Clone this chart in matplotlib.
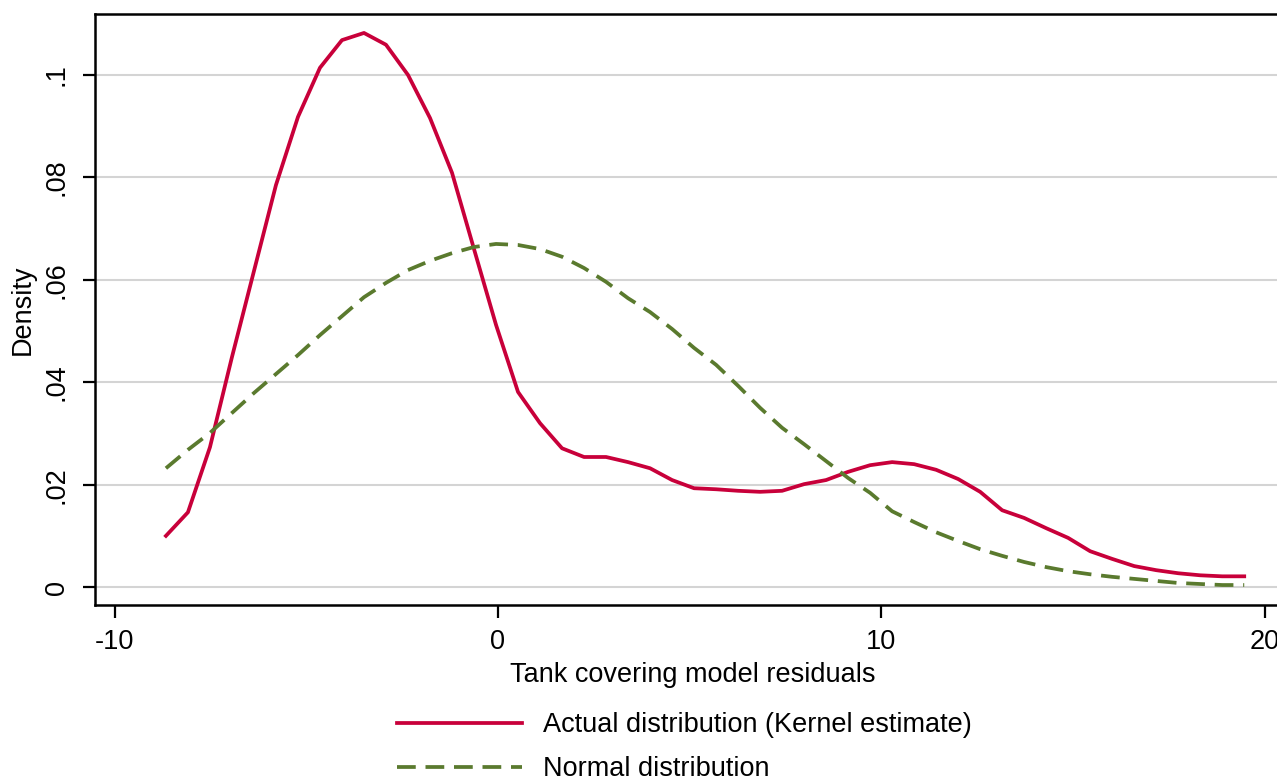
import matplotlib
matplotlib.use("Agg")
import matplotlib.pyplot as plt
import numpy as np

plt.rcParams['font.family'] = ['Liberation Sans', 'DejaVu Sans']

# kernel density evaluation points (50 points, as Stata kdensity does)
x_start = -8.66
x_step = 0.574
n_points = 50

kernel_density = [
    0.0100, 0.0146, 0.0273, 0.0449, 0.0617, 0.0785, 0.0918, 0.1014, 0.1068, 0.1082,
    0.1059, 0.1000, 0.0916, 0.0809, 0.0660, 0.0512, 0.0381, 0.0320, 0.0271, 0.0254,
    0.0254, 0.0244, 0.0232, 0.0209, 0.0193, 0.0191, 0.0188, 0.0186, 0.0188, 0.0201,
    0.0209, 0.0225, 0.0238, 0.0244, 0.0240, 0.0229, 0.0211, 0.0186, 0.0150, 0.0135,
    0.0115, 0.0096, 0.0070, 0.0055, 0.0041, 0.0033, 0.0027, 0.0023, 0.0021, 0.0021,
]

normal_density = [
    0.0232, 0.0268, 0.0301, 0.0340, 0.0379, 0.0416, 0.0453, 0.0492, 0.0529, 0.0566,
    0.0594, 0.0619, 0.0637, 0.0652, 0.0664, 0.0670, 0.0668, 0.0660, 0.0645, 0.0623,
    0.0596, 0.0564, 0.0537, 0.0504, 0.0467, 0.0434, 0.0393, 0.0350, 0.0311, 0.0279,
    0.0246, 0.0213, 0.0184, 0.0148, 0.0127, 0.0107, 0.0090, 0.0074, 0.0061, 0.0049,
    0.0039, 0.0031, 0.0025, 0.0020, 0.0016, 0.0012, 0.0008, 0.0006, 0.0004, 0.0004,
]

x_ticks = [-10, 0, 10, 20]
y_ticks = [0, 0.02, 0.04, 0.06, 0.08, 0.1]
y_tick_labels = ["0", ".02", ".04", ".06", ".08", ".1"]

RED = "#C8003A"
GREEN = "#5A7A2E"
FS = 19.5

xs = x_start + x_step * np.arange(n_points)

W, H = 1277, 778
fig = plt.figure(figsize=(W / 100, H / 100), dpi=100)
# plot region (right edge runs off the picture, as in the reference)
left, right, top, bottom = 95, 1290, 14, 605
ax = fig.add_axes([left / W, 1 - bottom / H, (right - left) / W, (bottom - top) / H])

ax.plot(xs, kernel_density, color=RED, lw=2.7, label="Actual distribution (Kernel estimate)")
ax.plot(xs, normal_density, color=GREEN, lw=2.7, dashes=(5, 2.6), label="Normal distribution")

ax.set_xlim(-10.51, 20.66)
ax.set_ylim(-0.0035, 0.1119)
ax.set_xticks(x_ticks)
ax.set_xticklabels([str(t) for t in x_ticks])
ax.set_yticks(y_ticks)
ax.set_yticklabels(y_tick_labels, rotation=90, va='center')
ax.tick_params(axis='both', labelsize=FS, length=9, width=1.6, direction='out')
ax.tick_params(axis='y', pad=9)
ax.tick_params(axis='x', pad=8)
ax.grid(axis='y', color='#d4d4d4', lw=1.5)
ax.set_axisbelow(True)
for s in ax.spines.values():
    s.set_linewidth(1.8)

ax.set_xlabel("Tank covering model residuals", fontsize=FS, labelpad=5)
ax.set_ylabel("Density", fontsize=FS, labelpad=6)

fig.legend(loc='upper left', bbox_to_anchor=(397 / W, 1 - 712 / H), frameon=False,
           fontsize=FS, handlelength=4.6, handletextpad=0.78, labelspacing=0.68,
           borderpad=0, borderaxespad=0)

fig.savefig("out.png", dpi=100)
